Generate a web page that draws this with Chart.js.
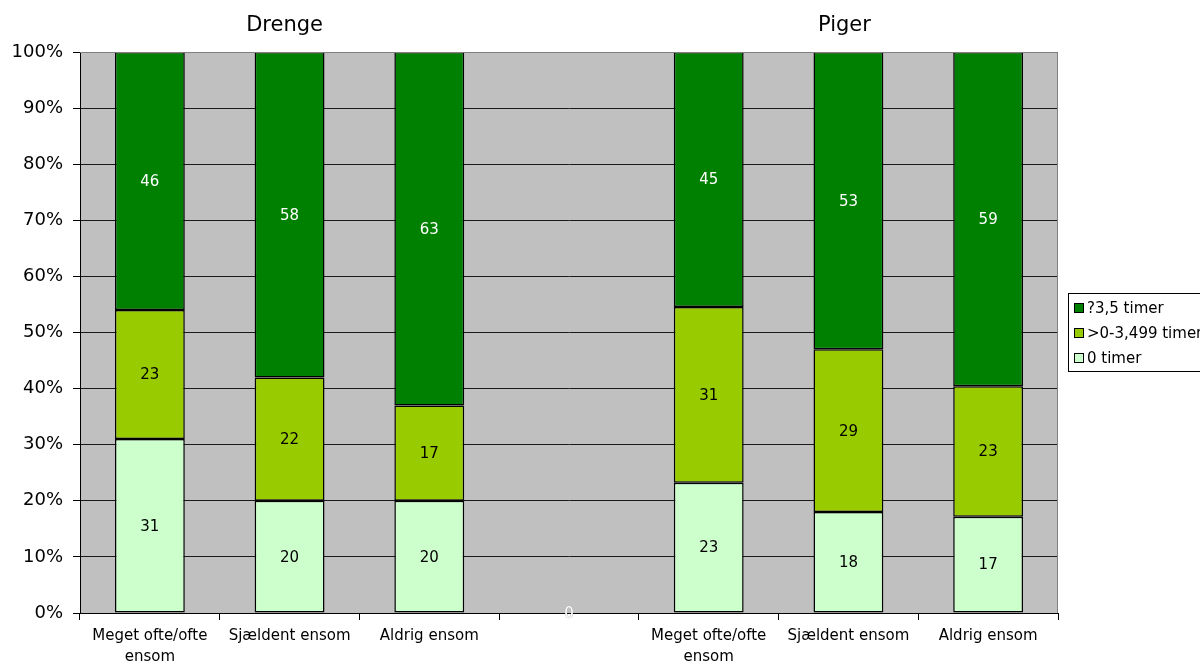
<!DOCTYPE html>
<html>
<head>
<meta charset="utf-8">
<script src="https://cdn.jsdelivr.net/npm/chart.js@4/dist/chart.umd.min.js"></script>
<style>
  body { margin: 0; background: #fff; }
  canvas { display: block; }
</style>
</head>
<body>
<canvas id="timerChart" width="1200" height="665"></canvas>
<script>
const categories = [['Meget ofte/ofte', 'ensom'], 'Sjældent ensom', 'Aldrig ensom', '', ['Meget ofte/ofte', 'ensom'], 'Sjældent ensom', 'Aldrig ensom'];
const groupTitles = ['Drenge', 'Piger'];
const seriesNames = ['0 timer', '>0-3,499 timer', '?3,5 timer'];
const zeroTimer = [31, 20, 20, 0, 23, 18, 17];
const midTimer = [23, 22, 17, null, 31, 29, 23];
const highTimer = [46, 58, 63, null, 45, 53, 59];
const yTicks = [0, 10, 20, 30, 40, 50, 60, 70, 80, 90, 100];

const colors = ['#CCFFCC', '#99CC00', '#008000'];
const labelColors = ['#000', '#000', '#fff'];
const font = '"DejaVu Sans", Arial, sans-serif';

const raw = [zeroTimer, midTimer, highTimer];
const totals = categories.map((c, i) => raw.reduce((s, arr) => s + (arr[i] || 0), 0));
const asPct = arr => arr.map((v, i) => v === null ? null : (totals[i] ? v / totals[i] * 100 : 0));

const datasets = raw.map((arr, k) => ({
    label: seriesNames[k],
    data: asPct(arr),
    rawValues: arr,
    backgroundColor: colors[k],
    borderColor: '#000',
    borderWidth: 1.5,
    borderSkipped: false,
    categoryPercentage: 1,
    barPercentage: 0.5
}));

const extras = {
    id: 'extras',
    beforeDraw(chart) {
        const { ctx, chartArea: a } = chart;
        ctx.save();
        ctx.fillStyle = '#C0C0C0';
        ctx.fillRect(a.left, a.top, a.right - a.left, a.bottom - a.top);
        ctx.restore();
    },
    afterDatasetsDraw(chart) {
        const ctx = chart.ctx;
        ctx.save();
        ctx.font = '15px ' + font;
        ctx.textAlign = 'center';
        ctx.textBaseline = 'middle';
        chart.data.datasets.forEach((ds, k) => {
            chart.getDatasetMeta(k).data.forEach((bar, i) => {
                const v = ds.rawValues[i];
                if (v === null) return;
                const y = (bar.y + bar.base) / 2;
                if (v === 0) {
                    ctx.fillStyle = '#fff';
                    ctx.strokeStyle = '#a0a0a0';
                    ctx.lineWidth = 0.6;
                    ctx.strokeText('0', bar.x, y + 1);
                    ctx.fillText('0', bar.x, y + 1);
                    return;
                }
                ctx.fillStyle = labelColors[k];
                ctx.fillText(String(v), bar.x, y + 1);
            });
        });
        ctx.restore();
    },
    afterDraw(chart) {
        const { ctx, chartArea: a } = chart;
        const x = chart.scales.x;
        ctx.save();
        // plot border top/right
        ctx.strokeStyle = '#808080';
        ctx.lineWidth = 1;
        ctx.beginPath();
        ctx.moveTo(a.left, a.top + 0.5);
        ctx.lineTo(a.right - 0.5, a.top + 0.5);
        ctx.lineTo(a.right - 0.5, a.bottom);
        ctx.stroke();

        // group titles
        ctx.fillStyle = '#000';
        ctx.font = '21px ' + font;
        ctx.textAlign = 'center';
        ctx.textBaseline = 'middle';
        ctx.fillText(groupTitles[0], x.getPixelForValue(1) - 5, 26);
        ctx.fillText(groupTitles[1], x.getPixelForValue(5) - 4, 26);

        // legend
        const lx = 1068, ly = 293;
        ctx.fillStyle = '#fff';
        ctx.fillRect(lx, ly, 140, 78);
        ctx.strokeStyle = '#000';
        ctx.strokeRect(lx + 0.5, ly + 0.5, 140, 78);
        ctx.font = '15px ' + font;
        ctx.textAlign = 'left';
        for (let r = 0; r < 3; r++) {
            const k = 2 - r;
            const yy = 308 + r * 25;
            ctx.fillStyle = colors[k];
            ctx.fillRect(lx + 6, yy - 5, 10, 10);
            ctx.strokeStyle = '#000';
            ctx.strokeRect(lx + 6.5, yy - 4.5, 9, 9);
            ctx.fillStyle = '#000';
            ctx.fillText(seriesNames[k], lx + 19, yy + 1);
        }
        ctx.restore();
    }
};

new Chart(document.getElementById('timerChart'), {
    type: 'bar',
    data: { labels: categories, datasets: datasets },
    options: {
        responsive: false,
        animation: false,
        layout: { padding: { top: 52, right: 142, left: 0, bottom: 0 } },
        plugins: {
            legend: { display: false },
            tooltip: { enabled: false }
        },
        scales: {
            x: {
                stacked: true,
                afterFit(s) { s.height = 52; },
                grid: {
                    offset: true,
                    drawOnChartArea: false,
                    drawTicks: true,
                    tickLength: 7,
                    color: '#000'
                },
                border: { color: '#000', width: 1 },
                ticks: {
                    color: '#000',
                    font: { family: font, size: 15, lineHeight: 1.4 },
                    padding: 6,
                    maxRotation: 0,
                    autoSkip: false
                }
            },
            y: {
                stacked: true,
                min: 0,
                max: 100,
                afterFit(s) { s.width = 80; },
                afterBuildTicks(s) { s.ticks = yTicks.map(v => ({ value: v })); },
                grid: {
                    color: c => c.tick && c.tick.value === 100 ? '#808080' : '#1a1a1a',
                    tickLength: 7,
                    tickColor: '#000'
                },
                border: { color: '#000', width: 1 },
                ticks: {
                    color: '#000',
                    font: { family: font, size: 18 },
                    padding: 10,
                    callback: v => v + '%'
                }
            }
        }
    },
    plugins: [extras]
});
</script>
</body>
</html>
